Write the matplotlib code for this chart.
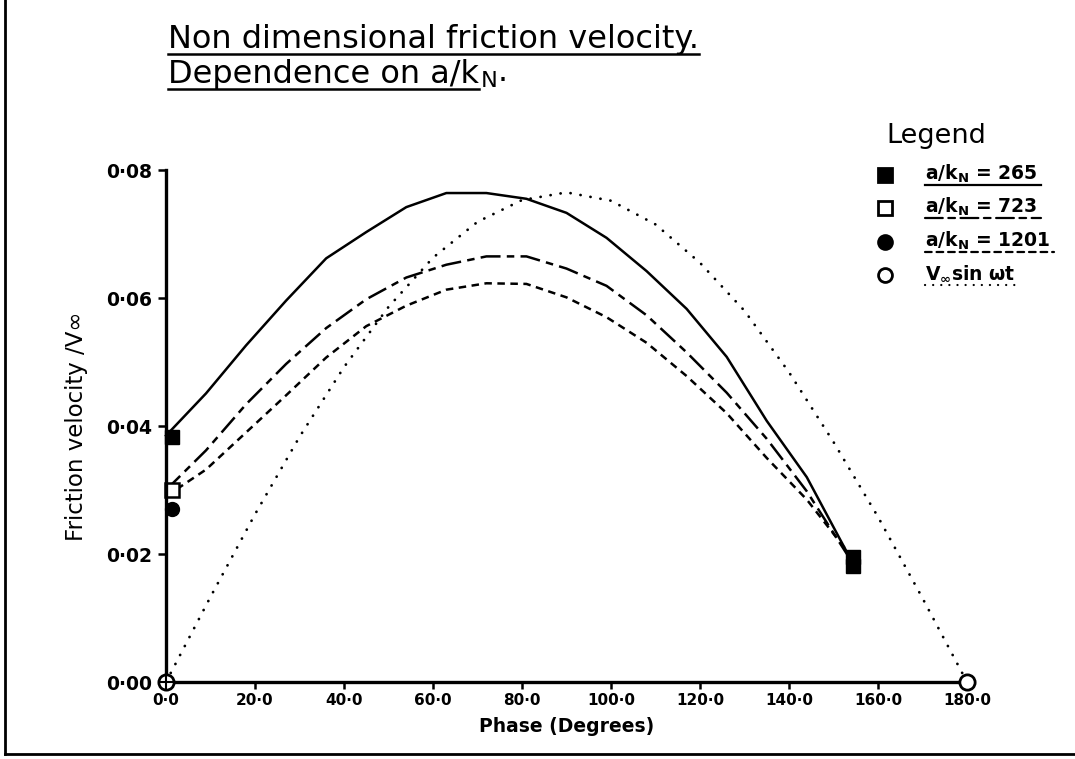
import matplotlib
matplotlib.use("Agg")
import matplotlib.pyplot as plt

# phase (degrees) and friction velocity / V_inf
phase = [0, 9, 18, 27, 36, 45, 54, 63, 72, 81, 90, 99, 108, 117, 126, 135, 144, 153]

uf_265 = [0.0385, 0.0451, 0.0526, 0.0596, 0.0662, 0.0703, 0.0742, 0.0764, 0.0764,
          0.0755, 0.0733, 0.0694, 0.0642, 0.0583, 0.0508, 0.0408, 0.0320, 0.0203]
uf_723 = [0.0300, 0.0362, 0.0434, 0.0497, 0.0553, 0.0598, 0.0632, 0.0652, 0.0665,
          0.0665, 0.0646, 0.0619, 0.0573, 0.0515, 0.0452, 0.0380, 0.0298, 0.0200]
uf_1201 = [0.0290, 0.0332, 0.0390, 0.0448, 0.0507, 0.0556, 0.0588, 0.0613, 0.0623,
           0.0622, 0.0601, 0.0570, 0.0530, 0.0478, 0.0420, 0.0350, 0.0285, 0.0205]

sin_phase = [0, 10, 20, 30, 40, 50, 60, 70, 80, 90, 100, 110, 120, 130, 140, 150, 160, 170, 180]
sin_vals = [0.0, 0.0133, 0.0262, 0.0383, 0.0492, 0.0586, 0.0663, 0.0719, 0.0753, 0.0765,
            0.0752, 0.0715, 0.0655, 0.0580, 0.0484, 0.0375, 0.0258, 0.0131, 0.0]

# marker points at the ends of the measured curves
start_phase = [1.3, 1.3, 1.3]
start_vals = [0.0383, 0.0300, 0.0270]
end_phase = [154.3, 154.3]
end_vals = [0.0196, 0.0181]

yticks = [0.0, 0.02, 0.04, 0.06, 0.08]
ytick_labels = ["0·00", "0·02", "0·04", "0·06", "0·08"]
xticks = [0, 20, 40, 60, 80, 100, 120, 140, 160, 180]
xtick_labels = ["0·0", "20·0", "40·0", "60·0", "80·0", "100·0", "120·0", "140·0", "160·0", "180·0"]

legend_labels = [r"a/k$_\mathregular{N}$ = 265", r"a/k$_\mathregular{N}$ = 723",
                 r"a/k$_\mathregular{N}$ = 1201", r"V$_\mathregular{\infty}$sin ωt"]

W, H = 1075, 759
fig = plt.figure(figsize=(W / 100, H / 100), dpi=100)
fig.patch.set_facecolor("white")

ax = fig.add_axes([166 / W, 1 - 682 / H, (967 - 166) / W, (682 - 170) / H])
ax.set_xlim(0, 180)
ax.set_ylim(0, 0.08)

ls_265 = "-"
ls_723 = (0, (8, 2.5, 3, 2.5))
ls_1201 = (0, (3.0, 2.2))
ls_sin = (0, (0.05, 3.6))

ax.plot(phase, uf_265, color="black", lw=1.8, ls=ls_265, clip_on=False)
ax.plot(phase, uf_723, color="black", lw=1.8, ls=ls_723, clip_on=False)
ax.plot(phase, uf_1201, color="black", lw=1.8, ls=ls_1201, clip_on=False)
ax.plot(sin_phase, sin_vals, color="black", lw=2.0, ls=ls_sin,
        dash_capstyle="round", clip_on=False)

ax.plot(start_phase[0], start_vals[0], "s", ms=10, mfc="black", mec="black", clip_on=False)
ax.plot(start_phase[1], start_vals[1], "s", ms=10, mfc="white", mec="black", mew=1.8, clip_on=False)
ax.plot(start_phase[2], start_vals[2], "o", ms=10, mfc="black", mec="black", clip_on=False)
ax.plot(end_phase, end_vals, "s", ms=10, mfc="black", mec="black", clip_on=False)
ax.plot([sin_phase[0], sin_phase[-1]], [sin_vals[0], sin_vals[-1]], "o", ms=11,
        mfc="white", mec="black", mew=2, clip_on=False, zorder=5)
ax.plot(sin_phase[0], sin_vals[0], "+", ms=10, mec="black", mew=1.5, clip_on=False, zorder=6)

for s in ["top", "right"]:
    ax.spines[s].set_visible(False)
for s in ["left", "bottom"]:
    ax.spines[s].set_linewidth(2.4)
ax.set_xticks(xticks)
ax.set_xticklabels(xtick_labels, fontsize=11, fontweight="bold")
ax.set_yticks(yticks)
ax.set_yticklabels(ytick_labels, fontsize=13.5, fontweight="bold")
ax.tick_params(axis="x", direction="out", length=5, width=1.8, pad=3)
ax.tick_params(axis="y", direction="out", length=6, width=1.8, pad=4)
ax.set_xlabel("Phase (Degrees)", fontsize=13.5, fontweight="bold")
ax.xaxis.set_label_coords(0.5, -0.069)
ax.set_ylabel("Friction velocity /V∞", fontsize=16.5)
ax.yaxis.set_label_coords(-0.097, 0.5)

# overlay in pixel coordinates for title, legend and page border
ov = fig.add_axes([0, 0, 1, 1], zorder=10)
ov.set_xlim(0, W)
ov.set_ylim(H, 0)
ov.axis("off")
ov.patch.set_alpha(0)

t1 = ov.text(168, 48, "Non dimensional friction velocity.", fontsize=23, va="baseline")
t2 = ov.text(168, 83, "Dependence on a/k", fontsize=23, va="baseline")
fig.canvas.draw()
r = fig.canvas.get_renderer()
e2 = t2.get_window_extent(r)
ov.text(e2.x1 + 1, 83, r"$_\mathregular{N}$.", fontsize=23, va="baseline")

ov.text(886, 143, "Legend", fontsize=19.5, va="baseline")
rows = [175, 208, 242, 275]
styles = [ls_265, ls_723, ls_1201, ls_sin]
marks = [("s", "black"), ("s", "white"), ("o", "black"), ("o", "white")]
entries = []
for yy, lab, (m, fc) in zip(rows, legend_labels, marks):
    ov.plot(885, yy, m, ms=10, mfc=fc, mec="black", mew=2)
    entries.append(ov.text(925, yy + 5, lab, fontsize=13.5, fontweight="bold", va="baseline"))

fig.canvas.draw()
for t, yb in [(t1, 48), (t2, 83)]:
    e = t.get_window_extent(r)
    ov.plot([e.x0, e.x1], [yb + 6, yb + 6], color="black", lw=1.8)
for t, yy, ls in zip(entries, rows, styles):
    e = t.get_window_extent(r)
    ov.plot([e.x0, e.x1 + 4], [yy + 10, yy + 10], color="black", lw=1.6, ls=ls,
            dash_capstyle="round")

# scanned page border
ov.plot([5, 5], [0, 754], color="black", lw=2)
ov.plot([5, W], [754, 754], color="black", lw=2)

fig.savefig("out.png", dpi=100, facecolor="white")
